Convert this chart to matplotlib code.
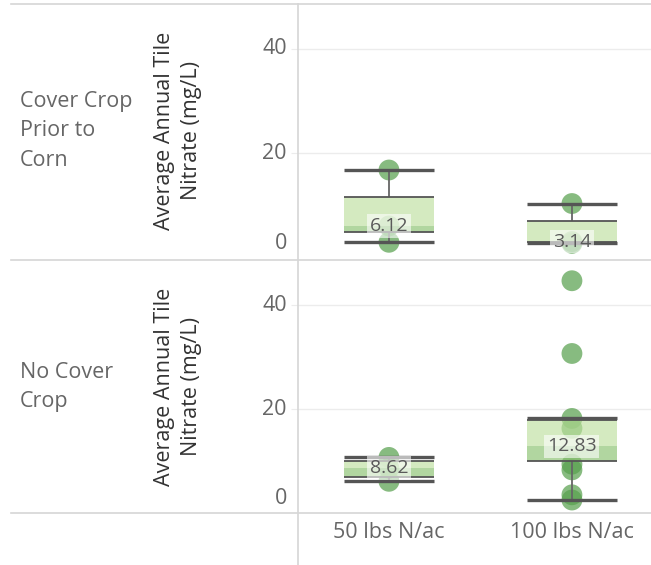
import matplotlib
matplotlib.use("Agg")
import matplotlib.pyplot as plt
from matplotlib.lines import Line2D

# ---- data -------------------------------------------------------------
treatments = ["Cover Crop\nPrior to\nCorn", "No Cover\nCrop"]
rates = ["50 lbs N/ac", "100 lbs N/ac"]

# individual plot-year values (mg/L)
cc_points = [[3.0, 6.12, 16.8], [2.8, 3.14, 10.4]]
nc_points = [[6.1, 8.62, 10.7], [2.5, 3.5, 8.3, 9.4, 16.3, 18.2, 30.7, 44.7]]

# box statistics per rate
cc_whislo = [3.0, 2.8]
cc_q1 = [4.9, 3.0]
cc_med = [6.12, 3.14]
cc_q3 = [11.6, 7.1]
cc_whishi = [16.8, 10.4]

nc_whislo = [6.1, 2.5]
nc_q1 = [7.0, 10.0]
nc_med = [8.62, 12.83]
nc_q3 = [10.1, 17.9]
nc_whishi = [10.7, 18.2]

y_ticks = [0, 20, 40]
y_title = "Average Annual Tile\nNitrate (mg/L)"

# ---- style ------------------------------------------------------------
FONT = "Open Sans"
W, H = 651, 565
GRID = "#ececec"
BORDER = "#d6d6d6"
DOT = "#59a14f"
BOX_HI = "#bee09e"
BOX_LO = "#88c06d"
LINE = "#555555"
TXT = "#666666"

fig = plt.figure(figsize=(W / 100, H / 100), dpi=100)


def fx(px):
    return px / W


def fy(py):
    return 1 - py / H


def draw_panel(ax, points, whislo, q1, med, q3, whishi):
    ax.set_xlim(-0.497, 1.432)
    ax.set_ylim(0, 48.5)
    for s in ax.spines.values():
        s.set_visible(False)
    ax.set_xticks([])
    ax.set_yticks([20, 40])
    ax.tick_params(axis="y", length=5, color=GRID, labelleft=False)
    for t in [20, 40]:
        ax.axhline(t, color=GRID, lw=1, zorder=0)
    width = 0.49
    for i in range(len(rates)):
        ys = points[i]
        ax.scatter([i] * len(ys), ys, s=225, color=DOT, alpha=0.72,
                   edgecolors="none", zorder=2)
        ax.bar(i, med[i] - q1[i], bottom=q1[i], width=width, color=BOX_LO,
               alpha=0.65, zorder=3)
        ax.bar(i, q3[i] - med[i], bottom=med[i], width=width, color=BOX_HI,
               alpha=0.65, zorder=3)
        ax.vlines(i, q3[i], whishi[i], color="#666666", lw=1.3, zorder=4)
        ax.vlines(i, whislo[i], q1[i], color="#666666", lw=1.3, zorder=4)
        ax.hlines([q1[i], q3[i]], i - width / 2, i + width / 2,
                  color=LINE, lw=1.3, zorder=4)
        ax.hlines([whislo[i], whishi[i]], i - width / 2, i + width / 2,
                  color=LINE, lw=2.4, zorder=4)
        ax.text(i, med[i], f"{med[i]:.2f}", ha="center", va="center",
                fontsize=14, color="#5a5a5a", family=FONT, zorder=5,
                bbox=dict(boxstyle="square,pad=0.14", fc="white", ec="none",
                          alpha=0.6))
    # value axis labels
    for t in y_ticks:
        if t == 0:
            ax.annotate(str(t), xy=(0, t), xycoords=("axes fraction", "data"),
                        xytext=(-8, 3), textcoords="offset points",
                        ha="right", va="bottom", fontsize=15.5,
                        color=TXT, family=FONT)
        else:
            ax.annotate(str(t), xy=(0, t), xycoords=("axes fraction", "data"),
                        xytext=(-8, 0), textcoords="offset points",
                        ha="right", va="center", fontsize=15.5,
                        color=TXT, family=FONT)


ax_top = fig.add_axes([fx(298), fy(258), fx(353), 254 / H])
ax_bot = fig.add_axes([fx(298), fy(513), fx(353), 252 / H])
draw_panel(ax_top, cc_points, cc_whislo, cc_q1, cc_med, cc_q3, cc_whishi)
draw_panel(ax_bot, nc_points, nc_whislo, nc_q1, nc_med, nc_q3, nc_whishi)

# row headers and value-axis titles
for label, (y0, y1) in zip(treatments, [(4, 258), (261, 513)]):
    yc = (y0 + y1) / 2
    fig.text(fx(20), fy(yc), label, ha="left", va="center", fontsize=15.5,
             color=TXT, family=FONT, linespacing=1.56)
    fig.text(fx(178), fy(yc), y_title, ha="center", va="center",
             rotation=90, fontsize=15.5, color="#333333", family=FONT,
             linespacing=1.4, multialignment="center")

# column headers along the bottom
for i, r in enumerate(rates):
    x_disp = ax_bot.transData.transform((i, 0))[0]
    fig.text(x_disp / W, fy(533), r, ha="center", va="center",
             fontsize=15.5, color=TXT, family=FONT)

# table rules
for py in [4, 259.5, 513]:
    fig.add_artist(Line2D([fx(11), 1], [fy(py), fy(py)], color=BORDER,
                          lw=1.2))
fig.add_artist(Line2D([fx(298), fx(298)], [fy(4), 0], color=BORDER, lw=1.2))

fig.savefig("out.png", dpi=100)
